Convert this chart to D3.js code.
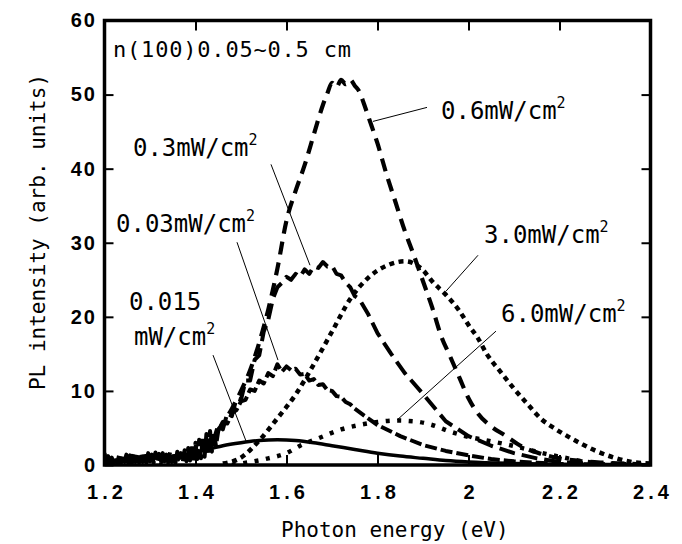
<!DOCTYPE html>
<html>
<head>
<meta charset="utf-8">
<script src="https://cdn.jsdelivr.net/npm/d3@7"></script>
<style>
  body { margin: 0; background: #fff; }
  svg { display: block; }
</style>
</head>
<body>
<svg id="chart"></svg>
<script>
// axis ticks
const energyTicks = [1.2, 1.4, 1.6, 1.8, 2, 2.2, 2.4];
const intensityTicks = [0, 10, 20, 30, 40, 50, 60];

// PL spectra: [photon energy (eV), PL intensity]
const pl0015 = [[1.20,1.0],[1.22,0.6],[1.26,0.7],[1.30,0.9],[1.34,1.1],[1.38,1.5],[1.42,2.0],[1.46,2.6],
  [1.50,3.0],[1.54,3.3],[1.58,3.4],[1.62,3.3],[1.66,3.0],[1.70,2.6],[1.75,2.1],[1.80,1.6],[1.85,1.2],
  [1.90,0.9],[1.95,0.6],[2.00,0.4],[2.10,0.2],[2.20,0.1],[2.40,0.05]];

const pl003 = [[1.200,1.6],[1.204,0.2],[1.208,1.2],[1.212,0.1],[1.216,1.0],[1.220,0.2],[1.224,1.1],[1.228,0.3],
  [1.232,1.3],[1.236,0.2],[1.240,1.2],[1.244,0.4],[1.248,1.4],[1.252,0.3],[1.256,1.3],[1.260,0.2],[1.264,1.5],
  [1.268,0.4],[1.272,1.4],[1.276,0.3],[1.280,1.6],[1.284,0.4],[1.288,1.5],[1.292,0.3],[1.296,1.6],[1.300,0.5],
  [1.304,1.4],[1.308,0.3],[1.312,1.7],[1.316,0.4],[1.320,1.5],[1.324,0.3],[1.328,1.6],[1.332,0.5],[1.336,1.4],
  [1.340,0.3],[1.344,1.7],[1.348,0.4],[1.352,1.6],[1.356,0.3],[1.360,1.8],[1.364,0.5],[1.368,1.6],[1.372,0.4],
  [1.376,2.0],[1.380,0.5],[1.384,2.3],[1.388,0.6],[1.392,2.6],[1.396,0.5],[1.400,3.0],[1.404,0.8],[1.408,3.4],
  [1.412,0.9],[1.416,3.8],[1.420,1.1],[1.424,4.2],[1.428,1.4],[1.432,4.6],[1.436,1.8],[1.440,4.4],[1.445,2.6],
  [1.45,4.6],[1.46,5.8],[1.47,5.6],[1.48,7.0],[1.49,7.4],[1.50,8.6],[1.51,8.8],[1.52,10.2],[1.53,10.0],
  [1.54,11.4],[1.55,11.0],[1.56,12.4],[1.57,12.0],[1.58,13.6],[1.59,12.6],[1.60,13.3],[1.61,12.8],[1.62,13.0],
  [1.63,12.2],[1.64,12.3],[1.65,11.4],[1.66,11.6],[1.67,10.8],[1.68,10.9],[1.69,10.1],[1.70,10.0],[1.71,9.3],
  [1.72,9.2],[1.73,8.5],[1.74,8.2],[1.75,7.6],[1.77,6.7],[1.80,5.4],[1.85,3.9],[1.90,2.7],[1.95,1.9],
  [2.00,1.3],[2.05,0.8],[2.10,0.5],[2.15,0.3],[2.20,0.15],[2.30,0.05]];

const pl03 = [[1.36,0.6],[1.37,1.4],[1.38,0.8],[1.39,2.2],[1.40,1.4],[1.41,3.0],[1.42,2.2],[1.43,4.0],
  [1.44,3.4],[1.45,5.4],[1.46,4.8],[1.47,7.0],[1.48,6.6],[1.49,9.0],[1.50,8.8],[1.51,11.4],[1.52,11.4],
  [1.53,14.2],[1.54,14.8],[1.55,18.0],[1.56,19.6],[1.57,22.4],[1.58,24.0],[1.59,24.6],[1.60,25.4],[1.61,25.0],
  [1.62,25.8],[1.63,25.4],[1.64,26.4],[1.65,25.8],[1.66,26.8],[1.67,26.6],[1.68,27.4],[1.69,26.8],[1.70,26.9],
  [1.71,25.8],[1.72,25.6],[1.73,24.6],[1.74,24.0],[1.75,22.8],[1.76,22.4],[1.78,20.3],[1.80,17.8],[1.83,15.0],
  [1.86,12.4],[1.90,9.6],[1.95,5.9],[2.00,3.9],[2.05,2.6],[2.10,1.6],[2.15,0.9],[2.20,0.4],[2.30,0.1]];

const pl06 = [[1.38,0.8],[1.40,1.6],[1.42,2.6],[1.44,4.0],[1.46,5.6],[1.48,7.6],[1.50,10.0],[1.52,12.8],
  [1.54,16.5],[1.56,21.0],[1.58,26.5],[1.60,33.0],[1.62,37.0],[1.64,40.5],[1.66,44.6],[1.68,48.6],[1.69,50.2],
  [1.70,51.6],[1.71,51.0],[1.72,52.0],[1.73,51.4],[1.74,52.0],[1.75,51.2],[1.76,50.4],[1.77,48.8],[1.78,47.0],
  [1.80,43.4],[1.82,39.2],[1.84,35.4],[1.86,31.6],[1.88,28.3],[1.90,24.8],[1.92,21.3],[1.94,17.4],[1.96,14.6],
  [1.98,11.8],[2.00,9.0],[2.02,7.0],[2.05,5.2],[2.08,4.0],[2.12,2.4],[2.16,1.5],[2.20,0.9],[2.25,0.5],
  [2.30,0.3],[2.38,0.1]];

const pl30 = [[1.46,0.2],[1.50,1.0],[1.54,3.3],[1.58,6.3],[1.62,9.5],[1.66,13.6],[1.70,18.0],[1.74,22.4],
  [1.78,25.3],[1.82,26.9],[1.86,27.5],[1.88,27.2],[1.90,26.3],[1.92,24.8],[1.95,23.0],[1.98,20.8],[2.00,18.9],
  [2.02,17.2],[2.04,15.0],[2.07,12.6],[2.10,10.3],[2.13,8.2],[2.16,6.2],[2.19,4.9],[2.22,3.8],[2.25,2.8],
  [2.28,1.9],[2.32,1.0],[2.36,0.4],[2.40,0.2]];

const pl60 = [[1.48,0.0],[1.52,0.4],[1.56,0.9],[1.60,1.6],[1.63,2.6],[1.67,3.6],[1.72,4.8],[1.76,5.4],
  [1.80,5.8],[1.84,6.0],[1.88,5.9],[1.92,5.4],[1.96,4.5],[2.00,3.8],[2.05,3.2],[2.09,2.7],[2.13,2.1],
  [2.17,1.5],[2.21,1.0],[2.25,0.5],[2.30,0.2],[2.36,0.1]];

const powers = ['0.015', '0.03', '0.3', '0.6', '3.0', '6.0'];
const spectra = [pl0015, pl003, pl03, pl06, pl30, pl60];

// line look per excitation power
const lineStyles = {
  '0.015': { width: 3.5, dash: null,    noisy: false },
  '0.03':  { width: 4,   dash: '12,4',  noisy: true },
  '0.3':   { width: 4,   dash: '16,7',  noisy: true },
  '0.6':   { width: 4.2, dash: '13,8',  noisy: false },
  '3.0':   { width: 4.5, dash: '5,4.5', noisy: false },
  '6.0':   { width: 4.5, dash: '4,7.5', noisy: false }
};

// labels: text, anchor (eV, intensity), leader line from -> to (eV, intensity)
const annotations = [
  { text: '0.6mW/cm',  sup: '2', at: [1.9396, 46.65], from: [1.9088, 48.27], to: [1.7901, 46.38] },
  { text: '0.3mW/cm',  sup: '2', at: [1.2626, 41.66], from: [1.5659, 40.58], to: [1.6516, 26.97] },
  { text: '0.03mW/cm', sup: '2', at: [1.2253, 31.42], from: [1.4912, 30.07], to: [1.5813, 14.16] },
  { text: '3.0mW/cm',  sup: '2', at: [2.0341, 29.93], from: [2.0209, 28.31], to: [1.9505, 23.46] },
  { text: '0.015',     sup: '',  at: [1.2538, 20.90], from: [1.4385, 14.83], to: [1.5110, 3.24] },
  { text: 'mW/cm',     sup: '2', at: [1.2648, 16.18], from: null, to: null },
  { text: '6.0mW/cm',  sup: '2', at: [2.0714, 19.28], from: [2.0604, 18.07], to: [1.8429, 6.07] }
];

class SpectraChart {
  constructor(_config, _data) {
    this.config = {
      parentElement: _config.parentElement,
      containerWidth: _config.containerWidth || 682,
      containerHeight: _config.containerHeight || 544,
      margin: _config.margin || { top: 20.5, right: 31.5, bottom: 79, left: 104.5 }
    };
    this.data = _data;
    this.initVis();
  }

  initVis() {
    let vis = this;
    vis.width = vis.config.containerWidth - vis.config.margin.left - vis.config.margin.right;
    vis.height = vis.config.containerHeight - vis.config.margin.top - vis.config.margin.bottom;

    vis.xScale = d3.scaleLinear().domain([1.2, 2.4]).range([0, vis.width]);
    vis.yScale = d3.scaleLinear().domain([0, 60]).range([vis.height, 0]);

    vis.svg = d3.select(vis.config.parentElement)
        .attr('width', vis.config.containerWidth)
        .attr('height', vis.config.containerHeight);

    vis.chart = vis.svg.append('g')
        .attr('transform', `translate(${vis.config.margin.left},${vis.config.margin.top})`);

    vis.svg.append('defs').append('clipPath').attr('id', 'plot-clip')
      .append('rect').attr('width', vis.width).attr('height', vis.height);

    vis.curves = vis.chart.append('g').attr('clip-path', 'url(#plot-clip)');
    vis.notes = vis.chart.append('g');
    vis.axes = vis.chart.append('g');

    vis.updateVis();
  }

  updateVis() {
    let vis = this;
    // noisy spectra are drawn point to point, the others smoothed
    vis.lineFor = noisy => d3.line()
        .x(d => vis.xScale(d[0]))
        .y(d => vis.yScale(d[1]))
        .curve(noisy ? d3.curveLinear : d3.curveMonotoneX);
    vis.renderVis();
  }

  renderVis() {
    let vis = this;

    vis.curves.selectAll('path.spectrum')
      .data(vis.data)
      .join('path')
        .attr('class', 'spectrum')
        .attr('d', d => vis.lineFor(lineStyles[d.power].noisy)(d.values))
        .attr('fill', 'none')
        .attr('stroke', '#000')
        .attr('stroke-width', d => lineStyles[d.power].width)
        .attr('stroke-dasharray', d => lineStyles[d.power].dash)
        .attr('stroke-linejoin', 'round');

    // leader lines + labels
    vis.notes.selectAll('line.leader')
      .data(annotations.filter(a => a.from))
      .join('line')
        .attr('class', 'leader')
        .attr('x1', d => vis.xScale(d.from[0]))
        .attr('y1', d => vis.yScale(d.from[1]))
        .attr('x2', d => vis.xScale(d.to[0]))
        .attr('y2', d => vis.yScale(d.to[1]))
        .attr('stroke', '#000')
        .attr('stroke-width', 1);

    const labels = vis.notes.selectAll('text.label')
      .data(annotations)
      .join('text')
        .attr('class', 'label')
        .attr('x', d => vis.xScale(d.at[0]))
        .attr('y', d => vis.yScale(d.at[1]))
        .style('font-family', '"DejaVu Sans Mono", monospace')
        .style('font-size', '24px')
        .text(d => d.text);
    labels.filter(d => d.sup)
      .append('tspan')
        .attr('dy', -11)
        .style('font-size', '15px')
        .text(d => d.sup);

    vis.notes.append('text')
        .attr('x', 8.5)
        .attr('y', 36.5)
        .attr('textLength', 238)
        .attr('lengthAdjust', 'spacing')
        .style('font-family', '"DejaVu Sans Mono", monospace')
        .style('font-size', '22px')
        .text('n(100)0.05~0.5  cm');

    // axes: inward ticks on all four sides
    const tickFont = (sel, spacing) => sel.selectAll('text')
        .style('font-family', '"Liberation Sans", Arial, sans-serif')
        .style('font-weight', 'bold')
        .style('font-size', '20px')
        .style('letter-spacing', `${spacing}px`)
        .attr('fill', '#000');
    const tickLines = sel => {
      sel.select('.domain').remove();
      sel.selectAll('line').attr('stroke', '#000').attr('stroke-width', 2);
    };

    vis.axes.append('g')
        .attr('transform', `translate(0,${vis.height})`)
        .call(d3.axisBottom(vis.xScale).tickValues(energyTicks).tickFormat(String)
          .tickSizeInner(-10).tickSizeOuter(0).tickPadding(20))
        .call(tickLines).call(tickFont, 4)
        .selectAll('text').attr('dx', 2);

    vis.axes.append('g')
        .call(d3.axisTop(vis.xScale).tickValues(energyTicks).tickFormat('')
          .tickSizeInner(-10).tickSizeOuter(0))
        .call(tickLines);

    vis.axes.append('g')
        .call(d3.axisLeft(vis.yScale).tickValues(intensityTicks).tickFormat(String)
          .tickSizeInner(-9).tickSizeOuter(0).tickPadding(9.5))
        .call(tickLines).call(tickFont, 2)
        .selectAll('text').attr('dx', 2);

    vis.axes.append('g')
        .attr('transform', `translate(${vis.width},0)`)
        .call(d3.axisRight(vis.yScale).tickValues(intensityTicks).tickFormat('')
          .tickSizeInner(-9).tickSizeOuter(0))
        .call(tickLines);

    vis.axes.append('rect')
        .attr('width', vis.width)
        .attr('height', vis.height)
        .attr('fill', 'none')
        .attr('stroke', '#000')
        .attr('stroke-width', 3.5);

    // axis titles
    vis.svg.append('text')
        .attr('x', 281)
        .attr('y', 537)
        .style('font-family', '"DejaVu Sans Mono", monospace')
        .style('font-size', '21px')
        .text('Photon energy (eV)');

    vis.svg.append('text')
        .attr('transform', 'translate(45,232) rotate(-90)')
        .attr('text-anchor', 'middle')
        .style('font-family', '"DejaVu Sans Mono", monospace')
        .style('font-size', '21px')
        .text('PL intensity (arb. units)');
  }
}

const seriesData = powers.map((p, i) => ({ power: p, values: spectra[i] }));
new SpectraChart({ parentElement: '#chart' }, seriesData);
</script>
</body>
</html>
